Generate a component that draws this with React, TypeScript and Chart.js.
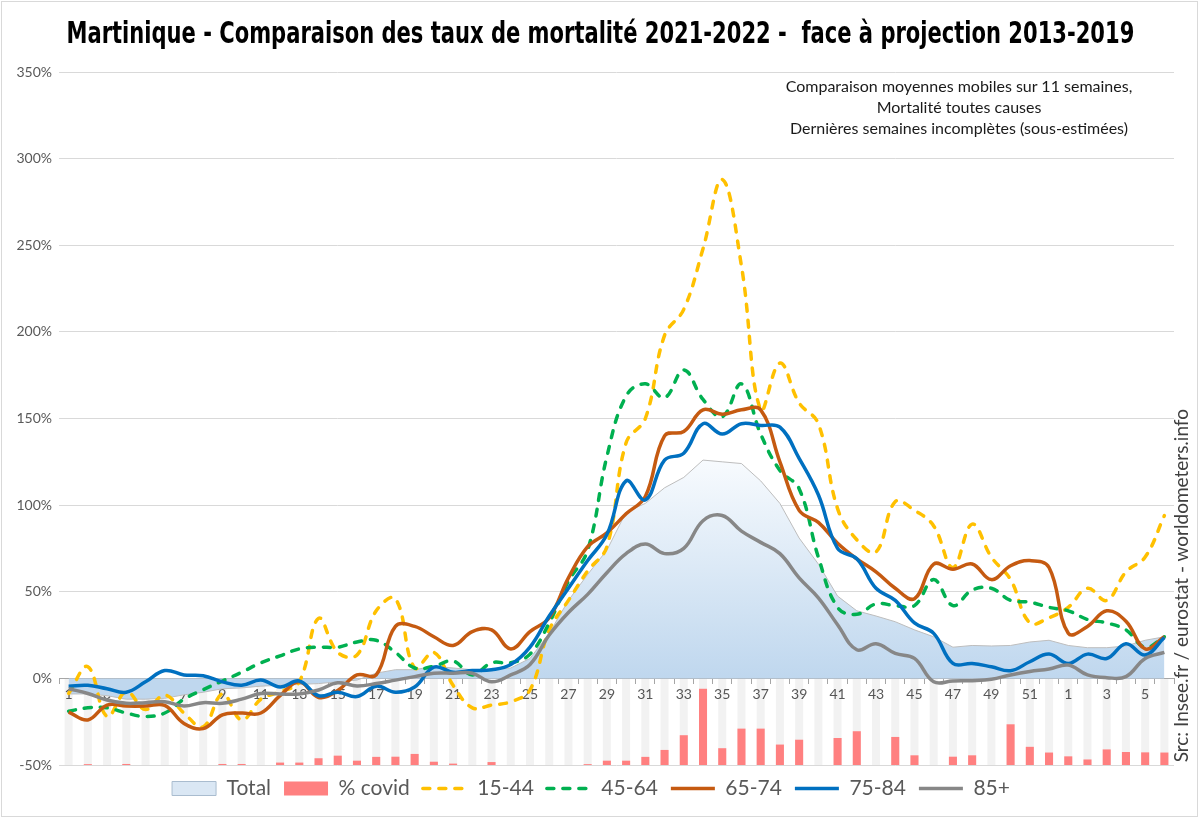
import React, { useEffect, useRef } from "react";
import { Chart, registerables } from "chart.js";

Chart.register(...registerables);

// weeks 2021 (1..52) then 2022 (1..6)
const weeks = [
  "1", "2", "3", "4", "5", "6", "7", "8", "9", "10", "11", "12", "13", "14", "15", "16", "17", "18", "19", "20",
  "21", "22", "23", "24", "25", "26", "27", "28", "29", "30", "31", "32", "33", "34", "35", "36", "37", "38", "39", "40",
  "41", "42", "43", "44", "45", "46", "47", "48", "49", "50", "51", "52",
  "1", "2", "3", "4", "5", "6",
];

const yTicks = [-50, 0, 50, 100, 150, 200, 250, 300, 350];

const total = [
  -9, -9, -10, -12, -12, -11.5, -9.5, -8, -6, -5.5, -4.5, -4, -3.5, -3, -2, -1, 3, 5, 5, 7,
  6, 5, 5, 6, 11.5, 26, 45, 60, 74, 96, 101, 110, 116, 126, 125, 124, 114, 101, 81, 66,
  47.5, 39, 36, 32.7, 28, 24, 18, 19, 18.7, 19, 21, 22, 19, 17.7, 17.7, 18.7, 22, 24,
];

const covid = [
  0, 0.5, 0, 0.6, 0, 0, 0, 0, 0.6, 0.6, 0, 1.4, 1.4, 3.9, 5.4, 2.5, 4.7, 4.8, 6.4, 1.9,
  0.8, 0, 1.7, 0, 0, 0, 0, 0.5, 2.5, 2.5, 4.7, 8.7, 17.2, 44, 9.7, 21, 21, 11.8, 14.6, 0,
  15.6, 19.5, 0, 16.2, 5.6, 0, 4.8, 5.6, 0, 23.5, 10.5, 7.2, 5, 3.2, 9, 7.5, 7.3, 7.2,
];

const age15_44 = [
  -8.7, 6.7, -22, -7.7, -18, -9.6, -20, -28, -9, -24, -12, -7.7, -2, 34.6, 15, 13.5, 39, 46, 6, 15,
  -4, -17, -15.4, -13.5, -6.7, 28, 45, 62, 76, 136, 150, 198, 213, 248, 288, 238, 155, 182, 159, 147,
  98, 80, 73, 102, 97, 88, 64, 89, 70, 57, 32, 35, 41, 52, 45, 61.5, 70, 94,
];

const age45_64 = [
  -19, -17, -17, -20, -22, -20, -12, -6.5, -1.5, 3.5, 9, 13, 17, 18, 18, 21, 22, 15, 6, 7,
  10, 2, 9, 9, 14, 32, 56, 74, 128, 163, 170, 162, 178, 161, 151, 170, 141, 120, 109.5, 70,
  41, 37, 43, 42, 42, 57, 42, 51, 52, 45, 44, 41, 39, 34, 32, 28, 18, 24,
];

const age65_74 = [
  -19.5, -24, -15.4, -16, -16, -15.6, -26, -29, -21, -20, -20, -10, -2, -11, -7, 2, 2, 30, 30, 24,
  19, 27, 28, 17, 27, 35, 58, 76, 84, 95, 105, 140, 142.5, 155, 152.5, 155, 155, 125, 97, 90,
  78, 69, 61.5, 52, 46, 66, 63, 66, 57, 65, 68, 64, 26, 30, 39, 33, 17, 24,
];

const age75_84 = [
  -4.5, -4, -6, -8, -2, 4.5, 2, 1.5, -2, -4, -1, -5, -1.5, -10, -8, -10.5, -4.5, -8, -5, 6.5,
  3.5, 4.5, 5, 8, 18, 36, 52, 68, 83, 114, 103, 126, 130, 147, 141, 147, 146, 145, 127, 106,
  75, 69, 52, 45, 32, 26, 8.6, 8.6, 6.7, 4.4, 9.6, 14, 8.6, 14, 11.5, 20, 13.5, 23.6,
];

const age85 = [
  -6, -8.7, -12.5, -14.4, -14, -13.5, -16, -14, -14.4, -12, -8.7, -9, -9, -6.7, -2.5, -4.4, -3, -1, 1, 3,
  3, 3, -2, 2, 8, 25, 38, 48.5, 61, 72, 77.5, 72, 75, 91, 94, 85, 78.5, 72, 58, 46.5,
  31, 16.5, 20, 14.4, 11.5, -2, -1.5, -1.3, -0.5, 2, 4, 5.4, 7.7, 2, 0.4, 1, 11.5, 15,
];

const FONT = "Lato, 'Noto Sans', sans-serif";
const TITLE = "Martinique - Comparaison des taux de mortalité 2021-2022 -  face à projection 2013-2019";
const DASH = [7, 9];

const lineDs = (label: string, data: number[], color: string, order: number, dashed: boolean) => ({
  type: "line" as const,
  label,
  data,
  borderColor: color,
  backgroundColor: "transparent",
  borderWidth: 3.5,
  borderDash: dashed ? DASH : [],
  borderCapStyle: dashed ? ("round" as const) : ("butt" as const),
  tension: 0.4,
  pointRadius: 0,
  pointStyle: "line",
  fill: false,
  order,
});

const App: React.FC = () => {
  const canvasRef = useRef<HTMLCanvasElement | null>(null);
  const titleRef = useRef<HTMLSpanElement | null>(null);
  const chartRef = useRef<any>(null);

  useEffect(() => {
    document.body.style.margin = "0";
    const t = titleRef.current;
    if (t) {
      const w = t.scrollWidth;
      if (w > 0) t.style.transform = `scaleX(${1068 / w})`;
    }
    if (!canvasRef.current) return;
    const ctx = canvasRef.current.getContext("2d");
    if (!ctx) return;
    if (chartRef.current) chartRef.current.destroy();

    const totalFill = (c: any) => {
      const chart = c.chart;
      const { chartArea, scales } = chart;
      if (!chartArea) return "#d6e5f4";
      const g = chart.ctx.createLinearGradient(0, scales.y.getPixelForValue(127), 0, scales.y.getPixelForValue(0));
      g.addColorStop(0, "#f8fbfe");
      g.addColorStop(1, "#bfd7ee");
      return g;
    };

    chartRef.current = new Chart(ctx, {
      type: "line",
      data: {
        labels: weeks,
        datasets: [
          {
            type: "line",
            label: "Total",
            data: total,
            borderColor: "#bdbdbd",
            borderWidth: 1,
            backgroundColor: totalFill,
            fill: "origin",
            tension: 0,
            pointRadius: 0,
            pointStyle: "rect",
            order: 6,
          },
          {
            type: "bar",
            label: "% covid",
            data: covid.map((v) => [-50, -50 + v]),
            backgroundColor: "#ff8080",
            borderWidth: 0,
            grouped: false,
            barPercentage: 0.42,
            categoryPercentage: 1,
            pointStyle: "rect",
            order: 7,
          },
          lineDs("15-44", age15_44, "#ffc000", 5, true),
          lineDs("45-64", age45_64, "#00b050", 4, true),
          lineDs("65-74", age65_74, "#c55a11", 3, false),
          lineDs("75-84", age75_84, "#0070c0", 2, false),
          lineDs("85+", age85, "#878787", 1, false),
          {
            type: "bar",
            label: "",
            data: weeks.map(() => [-50, 0]),
            backgroundColor: "rgba(0,0,0,0.05)",
            borderWidth: 0,
            grouped: false,
            barPercentage: 0.42,
            categoryPercentage: 1,
            order: 8,
          },
        ] as any,
      },
      options: {
        animation: false,
        responsive: true,
        maintainAspectRatio: false,
        events: [],
        layout: { padding: { top: 72, left: 8, right: 26, bottom: 10 } },
        plugins: {
          title: { display: false },
          tooltip: { enabled: false },
          legend: {
            position: "bottom",
            labels: {
              usePointStyle: true,
              pointStyleWidth: 44,
              boxHeight: 14,
              padding: 13,
              color: "#595959",
              font: { size: 21, family: FONT },
              filter: (item: any) => item.text !== "",
              sort: (a: any, b: any) => a.datasetIndex - b.datasetIndex,
              generateLabels: (chart: any) => {
                const items = (Chart.defaults.plugins.legend.labels as any).generateLabels(chart);
                return items.map((it: any) => {
                  const ds = chart.data.datasets[it.datasetIndex];
                  if (it.text === "Total") {
                    return { ...it, fillStyle: "#dae7f4", strokeStyle: "#a9bccf", lineWidth: 1, pointStyle: "rect", lineDash: [] };
                  }
                  if (it.text === "% covid") {
                    return { ...it, fillStyle: "#ff8080", lineWidth: 0, pointStyle: "rect" };
                  }
                  return {
                    ...it,
                    strokeStyle: ds.borderColor,
                    lineWidth: 3.5,
                    lineDash: ds.borderDash,
                    lineCap: ds.borderCapStyle,
                    pointStyle: "line",
                  };
                });
              },
            },
          },
        },
        scales: {
          x: {
            type: "category",
            position: { y: 0 } as any,
            offset: true,
            grid: { offset: true, drawOnChartArea: false, drawTicks: true, tickLength: 5, color: "#a6a6a6" },
            border: { display: true, color: "#a6a6a6", width: 1 },
            ticks: {
              autoSkip: false,
              maxRotation: 0,
              padding: 3,
              color: "#595959",
              font: { size: 14, family: FONT },
              callback: (_v: any, i: number) => (i % 2 === 0 ? weeks[i] : ""),
            },
          },
          y: {
            min: yTicks[0],
            max: yTicks[yTicks.length - 1],
            ticks: {
              stepSize: 50,
              padding: 7,
              color: "#595959",
              font: { size: 14, family: FONT },
              callback: (v: any) => `${v}%`,
            },
            grid: { color: "#d9d9d9", drawTicks: false },
            border: { display: false },
            afterFit: (s: any) => {
              s.width = 51;
            },
          },
        },
      } as any,
    });

    return () => {
      chartRef.current?.destroy();
      chartRef.current = null;
    };
  }, []);

  return (
    <div style={{ position: "fixed", left: 0, top: 0, width: 1200, height: 819, background: "#fff" }}>
      <canvas ref={canvasRef}></canvas>
      <div
        style={{
          position: "absolute",
          left: 0,
          top: 15,
          width: 1200,
          display: "flex",
          justifyContent: "center",
          lineHeight: "36px",
        }}
      >
        <span
          ref={titleRef}
          style={{
            flex: "none",
            width: "max-content",
            whiteSpace: "pre",
            fontFamily: "'Liberation Sans Narrow', 'DejaVu Sans Condensed', sans-serif",
            fontWeight: "bold",
            fontSize: 30,
            color: "#000",
            transformOrigin: "center",
          }}
        >
          {TITLE}
        </span>
      </div>
      <div
        style={{
          position: "absolute",
          left: 759,
          top: 75,
          width: 400,
          textAlign: "center",
          fontFamily: FONT,
          fontSize: 16,
          lineHeight: "21px",
          color: "#1a1a1a",
        }}
      >
        <div>Comparaison moyennes mobiles sur 11 semaines,</div>
        <div>Mortalité toutes causes</div>
        <div>Dernières semaines incomplètes (sous-estimées)</div>
      </div>
      <div
        style={{
          position: "absolute",
          left: 1169,
          bottom: 57,
          writingMode: "vertical-rl",
          transform: "rotate(180deg)",
          fontFamily: FONT,
          fontSize: 19,
          lineHeight: "24px",
          color: "#404040",
          whiteSpace: "nowrap",
        }}
      >
        Src: Insee.fr / eurostat - worldometers.info
      </div>
      <div
        style={{
          position: "absolute",
          left: 1,
          top: 1,
          width: 1197,
          height: 816,
          border: "1px solid #d9d9d9",
          boxSizing: "border-box",
          pointerEvents: "none",
        }}
      />
    </div>
  );
};

export default App;
